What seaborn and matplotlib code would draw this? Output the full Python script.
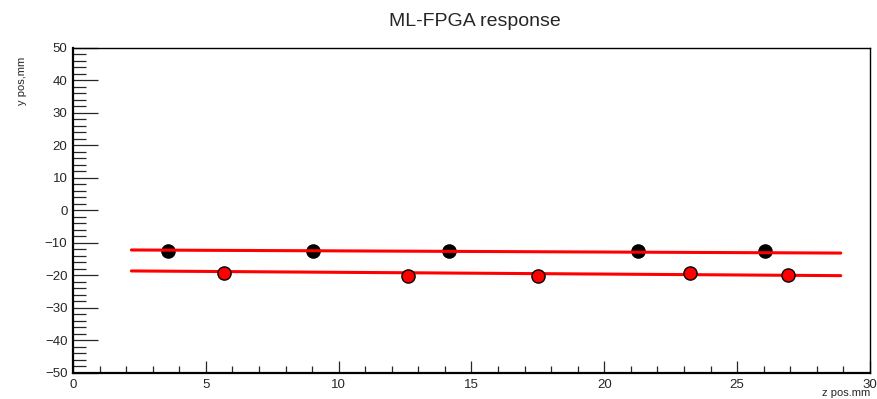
import matplotlib
matplotlib.use("Agg")
import matplotlib.pyplot as plt
from matplotlib.ticker import MultipleLocator
import pandas as pd
import seaborn as sns

# measured points (z, y) in mm
black_z = [3.58, 9.03, 14.15, 21.27, 26.04]
black_y = [-12.5, -12.6, -12.5, -12.5, -12.6]
red_z = [5.68, 12.61, 17.50, 23.22, 26.91]
red_y = [-19.1, -20.2, -20.3, -19.1, -20.0]

# linear fit lines
fit_z = [2.2, 28.9]
fit_upper = [-12.15, -13.1]
fit_lower = [-18.6, -20.05]

sns.set_style("white")
plt.rcParams["font.family"] = ["Liberation Sans", "DejaVu Sans"]

fig = plt.figure(figsize=(8.77, 3.99), dpi=100)
ax = fig.add_axes([0.0832, 0.0652, 0.9088, 0.8145])

black = pd.DataFrame({"z": black_z, "y": black_y})
red = pd.DataFrame({"z": red_z, "y": red_y})

sns.scatterplot(data=black, x="z", y="y", ax=ax, color="black", s=90,
                edgecolor="black", linewidth=1, zorder=2)
sns.lineplot(x=fit_z, y=fit_upper, ax=ax, color="#ff0000", lw=2.2,
             zorder=3, errorbar=None)
sns.lineplot(x=fit_z, y=fit_lower, ax=ax, color="#ff0000", lw=2.2,
             zorder=3, errorbar=None)
sns.scatterplot(data=red, x="z", y="y", ax=ax, color="#ff0000", s=90,
                edgecolor="black", linewidth=1, zorder=4)

ax.set_xlim(0, 30)
ax.set_ylim(-50, 50)
ax.xaxis.set_major_locator(MultipleLocator(5))
ax.xaxis.set_minor_locator(MultipleLocator(1))
ax.yaxis.set_major_locator(MultipleLocator(10))
ax.yaxis.set_minor_locator(MultipleLocator(2))

ax.tick_params(axis="y", which="major", direction="in", length=18, width=0.9,
               labelsize=9.5, pad=4, left=True, right=False)
ax.tick_params(axis="y", which="minor", direction="in", length=9, width=0.9,
               left=True, right=False)
ax.tick_params(axis="x", which="major", direction="in", length=9, width=0.9,
               labelsize=9.5, pad=4, bottom=True, top=False)
ax.tick_params(axis="x", which="minor", direction="in", length=5, width=0.9,
               bottom=True, top=False)

for side in ["left", "bottom"]:
    ax.spines[side].set_linewidth(1.6)
for side in ["top", "right"]:
    ax.spines[side].set_linewidth(1.0)
for side in ax.spines:
    ax.spines[side].set_color("black")

ax.set_xlabel("")
ax.set_ylabel("")
fig.text(0.541, 0.947, "ML-FPGA response", ha="center", va="center", fontsize=14)
fig.text(0.025, 0.857, "y pos,mm", rotation=90, ha="center", va="top", fontsize=8)
fig.text(0.992, 0.002, "z pos.mm", ha="right", va="bottom", fontsize=8)

fig.savefig("out.png", dpi=100)
